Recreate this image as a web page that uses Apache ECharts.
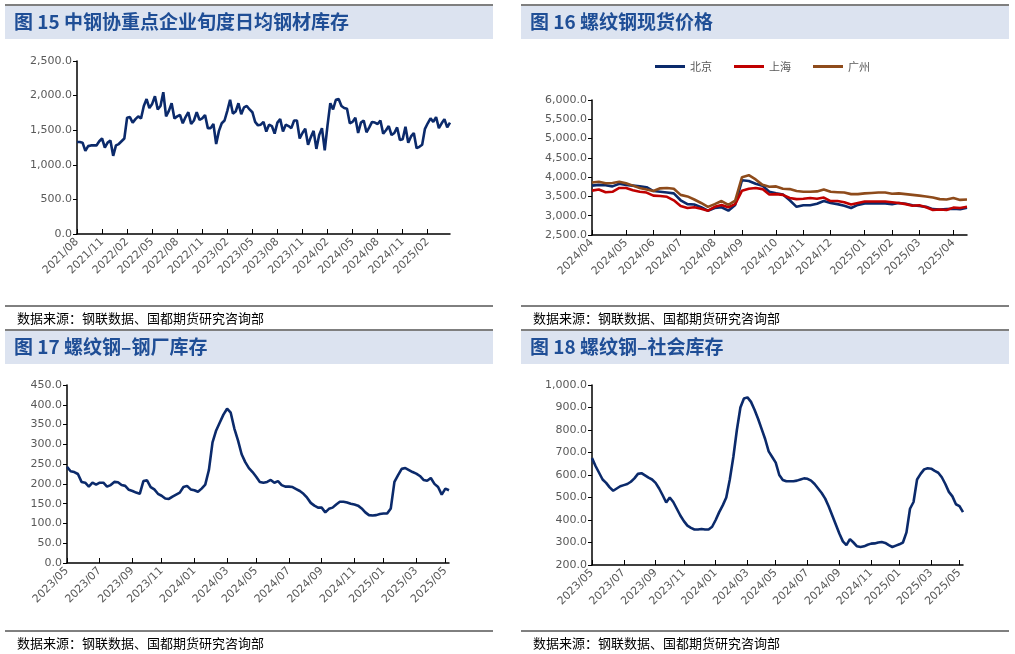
<!DOCTYPE html>
<html><head><meta charset="utf-8">
<script src="https://cdn.jsdelivr.net/npm/echarts@6/dist/echarts.min.js"></script>
<style>html,body{margin:0;padding:0;background:#fff}#c{width:1015px;height:654px}</style>
</head><body><div id="c"></div>
<script>
// ---------- data ----------
// Chart 15: dekadal (旬度) average daily steel inventory, from 2021/08 first dekad
const c15Start = [2021, 8];
const c15Values = [
1330,1330,1320, 1200,1270,1280, 1280,1280,1340, 1380,1250,1320, 1350,1130,1280,
1300,1340,1380, 1680,1690,1610, 1660,1700,1670, 1850,1950,1820, 1880,1990,1800,
1850,2050,1700, 1780,1890,1670, 1700,1720,1600, 1690,1760,1590, 1640,1760,1650,
1670,1720,1530, 1530,1590,1300, 1490,1600,1640, 1780,1940,1740, 1770,1890,1730,
1830,1850,1800, 1760,1620,1570, 1580,1620,1480, 1580,1560,1450, 1610,1660,1480,
1580,1560,1530, 1640,1640,1380, 1460,1520,1290, 1400,1490,1230, 1430,1530,1210,
1570,1890,1800, 1940,1950,1850, 1820,1810,1600, 1620,1680,1460, 1610,1640,1470,
1540,1620,1610, 1590,1640,1450, 1500,1560,1430, 1460,1540,1360, 1370,1550,1320,
1410,1460,1240, 1260,1290,1520, 1600,1670,1620, 1690,1530,1600, 1660,1540,1610
];
// Chart 16: weekly rebar spot prices from 2024-04-01
const c16Start = '2024-04-01';
const c16Beijing = [
3780,3800,3790,3760,3830, 3800,3780,3760,3740, 3640,3620,3600,3580,
3400,3300,3290,3220,3130, 3200,3220,3130,3280, 3920,3900,3830,3780,3620,
3580,3550,3400,3230, 3270,3270,3310,3380, 3330,3300,3260,3200,3280,
3320,3320,3320,3320, 3300,3330,3310,3270, 3250,3230,3170,3160,3170, 3180,3170,3210];
const c16Shanghai = [
3650,3680,3610,3620,3720, 3720,3660,3620,3600, 3520,3510,3490,3400,
3250,3200,3220,3180,3130, 3230,3280,3220,3300, 3650,3700,3720,3690,3550,
3560,3540,3460,3430, 3440,3460,3440,3470, 3380,3380,3350,3290,3330,
3370,3370,3370,3370, 3350,3330,3300,3260, 3270,3220,3150,3160,3150, 3210,3200,3230];
const c16Guangzhou = [
3860,3880,3840,3850,3880, 3840,3780,3720,3680, 3640,3710,3720,3700,
3540,3500,3420,3330,3230, 3300,3380,3280,3390, 4000,4050,3940,3800,3750,
3760,3700,3690,3640, 3620,3620,3630,3680, 3620,3610,3600,3560,3560,
3580,3590,3600,3600, 3570,3580,3560,3540, 3520,3500,3470,3430,3420, 3460,3410,3420];
// Chart 17 / 18: weekly rebar inventories from 2023-05-04
const c17Start = '2023-05-04';
const c17Mill = [
243,232,230,225, 205,203,193,203,198, 203,203,193,197, 205,204,197,195,185,
182,178,175,207, 209,192,186,175, 170,163,162,168,173, 178,192,195,186,
184,180,188,198, 235,305,335,355,375, 390,380,340,310, 275,255,240,230,
218,205,203,205,210, 203,207,197,193, 193,192,187,182, 175,165,152,145,140,
140,128,137,140, 148,155,155,153,150, 148,145,138,128, 121,120,121,124,
125,125,138,205,222, 238,240,235,230, 226,220,210,208, 215,200,192,173, 188,184];
const c18Social = [
675,640,610,580, 565,545,530,540,550, 555,560,570,585, 605,608,598,588,580,
565,540,510,478, 500,480,450,420, 395,375,365,358,358, 360,358,358,370,
400,435,465,500, 580,680,800,900,940, 945,925,890,850, 805,760,705,680,
655,600,578,572,572, 572,575,580,585, 583,575,560,540, 520,495,460,420,380,
340,305,288,315, 300,283,280,283,290, 295,296,300,302, 298,288,280,286,
292,300,345,450,480, 580,605,625,630, 628,618,610,590, 560,525,505,470, 462,435];
const legendNames = ['北京','上海','广州'];
const titles = ['图 15 中钢协重点企业旬度日均钢材库存','图 16 螺纹钢现货价格','图 17 螺纹钢–钢厂库存','图 18 螺纹钢–社会库存'];
const sourceText = '数据来源：钢联数据、国都期货研究咨询部';

// ---------- categories ----------
const pad = n => String(n).padStart(2,'0');
function dekads(start, n){ const out=[]; let y=start[0], m=start[1], d=0;
  for(let i=0;i<n;i++){ out.push(y+'/'+pad(m)+'/'+['01','11','21'][d]); d++; if(d===3){d=0;m++; if(m>12){m=1;y++;}} } return out; }
function weeks(start, n){ const out=[]; const t0=new Date(start+'T00:00:00Z').getTime();
  for(let i=0;i<n;i++){ const dt=new Date(t0+i*7*86400000); out.push(dt.getUTCFullYear()+'/'+pad(dt.getUTCMonth()+1)+'/'+pad(dt.getUTCDate())); } return out; }
const cat15 = dekads(c15Start, c15Values.length);
const cat16 = weeks(c16Start, c16Beijing.length);
const cat17 = weeks(c17Start, c17Mill.length);

function monthStep(cats, step, base){
  const show = new Set(); let prev=null;
  cats.forEach((c,i)=>{ const ym=c.slice(0,7); if(ym!==prev){ prev=ym;
    const y=+c.slice(0,4), m=+c.slice(5,7); const k=(y*12+m-base); if(((k%step)+step)%step===0) show.add(i);} });
  return show;
}
const show15 = monthStep(cat15,3,2021*12+8);
const show16 = monthStep(cat16,1,0);
const show17 = monthStep(cat17,2,2023*12+5);

const axisColor = '#000';
const labelColor = '#595959';
const font = '"Noto Sans CJK SC", "DejaVu Sans", sans-serif';
function xAx(gi, cats, show){
  return { type:'category', gridIndex:gi, data:cats, boundaryGap:false,
    axisLine:{lineStyle:{color:axisColor,width:1.5}},
    axisTick:{inside:true,length:5,interval:(i)=>show.has(i),lineStyle:{color:axisColor}},
    axisLabel:{interval:(i)=>show.has(i), rotate:45, color:labelColor, fontSize:11, fontFamily:'Verdana, "DejaVu Sans", sans-serif',
      formatter:v=>v.slice(0,7), margin:6},
    splitLine:{show:false} };
}
function yAx(gi,min,max,interval){
  return { type:'value', gridIndex:gi, min, max, interval,
    axisLine:{show:true,lineStyle:{color:axisColor,width:1.5}},
    axisTick:{show:true,length:4,lineStyle:{color:axisColor}},
    axisLabel:{color:labelColor,fontSize:11,fontFamily:'Verdana, "DejaVu Sans", sans-serif',
      formatter:v=>v.toLocaleString('en-US',{minimumFractionDigits:1,maximumFractionDigits:1}), margin:5},
    splitLine:{show:false} };
}
const navy = '#0B2A6B';
function line(name, xi, data, color){
  return { name, type:'line', xAxisIndex:xi, yAxisIndex:xi, data, symbol:'none', smooth:false,
    lineStyle:{color, width:2.6}, itemStyle:{color}, animation:false };
}

// ---------- panel decorations ----------
const graphics = [];
const panels = [[5,5],[521,5],[5,330],[521,330]];
panels.forEach((p,i)=>{
  const [x,y]=p, w=488;
  graphics.push({type:'rect',shape:{x:x,y:y,width:w,height:34},style:{fill:'#DCE3F0'},silent:true});
  graphics.push({type:'line',shape:{x1:x,y1:y,x2:x+w,y2:y},style:{stroke:'#7F7F7F',lineWidth:2},silent:true});
  graphics.push({type:'text',x:x+9,y:y+17,style:{text:titles[i],fill:'#1F4E96',font:'bold 19px '+font,textVerticalAlign:'middle'},silent:true});
  const ly = y+301;
  graphics.push({type:'line',shape:{x1:x,y1:ly,x2:x+w,y2:ly},style:{stroke:'#000',lineWidth:1},silent:true});
  graphics.push({type:'text',x:x+12,y:ly+12,style:{text:sourceText,fill:'#000',font:'13px '+font,textVerticalAlign:'middle'},silent:true});
});

const chart = echarts.init(document.getElementById('c'));
chart.setOption({
  animation:false,
  backgroundColor:'#fff',
  graphic: graphics,
  legend:{ data:legendNames, top:56, left:650, itemWidth:30, itemHeight:3, itemGap:22, icon:'rect',
    textStyle:{color:labelColor,fontSize:11,fontFamily:font} },
  grid:[
    {left:77, top:61, width:373, height:173},
    {left:592, top:100, width:375, height:135},
    {left:67, top:385, width:382, height:178},
    {left:592, top:385, width:371, height:180}
  ],
  xAxis:[ xAx(0,cat15,show15), xAx(1,cat16,show16), xAx(2,cat17,show17), xAx(3,cat17,show17) ],
  yAxis:[ yAx(0,0,2500,500), yAx(1,2500,6000,500), yAx(2,0,450,50), yAx(3,200,1000,100) ],
  series:[
    line('中钢协库存',0,c15Values,navy),
    line(legendNames[0],1,c16Beijing,navy),
    line(legendNames[1],1,c16Shanghai,'#C00000'),
    line(legendNames[2],1,c16Guangzhou,'#8E4B1B'),
    line('钢厂库存',2,c17Mill,navy),
    line('社会库存',3,c18Social,navy)
  ]
});
</script></body></html>
